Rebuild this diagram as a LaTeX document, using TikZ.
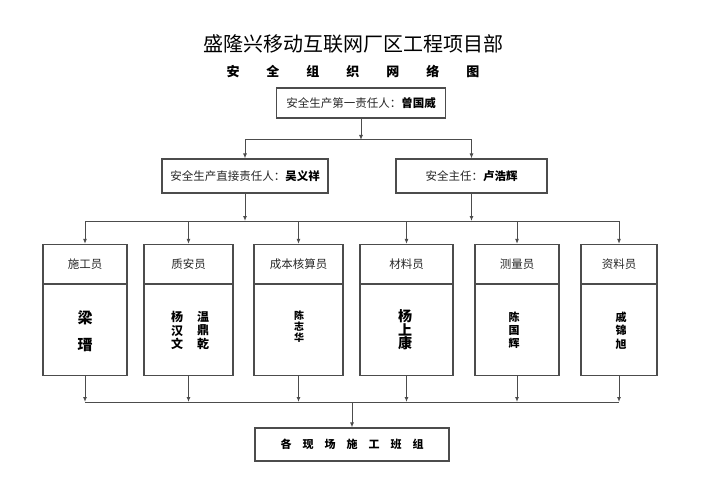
\documentclass[tikz,border=0pt]{standalone}
\usepackage{fontspec}
\setmainfont{Noto Sans CJK SC}
\usepackage{tikz}
\usetikzlibrary{arrows.meta}

\begin{document}
\begin{tikzpicture}[x=1pt,y=-1pt,
        line/.style={draw=black!70,line width=1pt},
        arr/.style={line,-{Latex[length=5pt,width=4pt]}},
        box/.style={draw=black!70,line width=1.1pt,rectangle,inner sep=0pt,
                    font=\fontsize{11.5}{13}\selectfont,text=black!85},
        role/.style={box,minimum height=39pt,anchor=south},
        staff/.style={box,minimum height=91pt,anchor=north},
        names/.style={align=center,text=black,font=\bfseries}]

    \useasboundingbox (0,0) rectangle (707,500);

    \node[font=\fontsize{20}{22}\selectfont] (ttl) at (353,44) {盛隆兴移动互联网厂区工程项目部};
    \node[font=\fontsize{13}{15}\selectfont\bfseries] (sub) at (353,72)
        {安\hspace{27pt}全\hspace{27pt}组\hspace{27pt}织\hspace{27pt}网\hspace{27pt}络\hspace{27pt}图};

    \node[box,minimum width=169pt,minimum height=30pt] (chief) at (361,103)
        {安全生产第一责任人：{\bfseries\color{black}曾国威}};
    \node[box,minimum width=166pt,minimum height=34pt] (duty) at (245,176)
        {安全生产直接责任人：{\bfseries\color{black}吴义祥}};
    \node[box,minimum width=151pt,minimum height=34pt] (safety) at (471.5,176)
        {安全主任：{\bfseries\color{black}卢浩辉}};

    % posts
    \node[role,minimum width=84pt] (role1) at (85,284) {施工员};
    \node[role,minimum width=89pt] (role2) at (188.5,284) {质安员};
    \node[role,minimum width=89pt] (role3) at (298.5,284) {成本核算员};
    \node[role,minimum width=93pt] (role4) at (406.5,284) {材料员};
    \node[role,minimum width=84pt] (role5) at (517,284) {测量员};
    \node[role,minimum width=76pt] (role6) at (619,284) {资料员};

    \node[staff,minimum width=84pt] (staff1) at (85,284) {};
    \node[staff,minimum width=89pt] (staff2) at (188.5,284) {};
    \node[staff,minimum width=89pt] (staff3) at (298.5,284) {};
    \node[staff,minimum width=93pt] (staff4) at (406.5,284) {};
    \node[staff,minimum width=84pt] (staff5) at (517,284) {};
    \node[staff,minimum width=76pt] (staff6) at (619,284) {};

    \node[names,font=\fontsize{15}{27}\selectfont\bfseries] (nm1) at (85,331.5) {梁\\瑨};
    \node[names,font=\fontsize{12}{13.5}\selectfont\bfseries] (nm2a) at (177,330.5) {杨\\汉\\文};
    \node[names,font=\fontsize{12}{13.5}\selectfont\bfseries] (nm2b) at (203,330.5) {温\\鼎\\乾};
    \node[names,font=\fontsize{10}{11}\selectfont\bfseries] (nm3) at (299,327) {陈\\志\\华};
    \node[names,font=\fontsize{14}{13.5}\selectfont\bfseries] (nm4) at (405,330) {杨\\上\\康};
    \node[names,font=\fontsize{11}{13}\selectfont\bfseries] (nm5) at (514,330) {陈\\国\\辉};
    \node[names,font=\fontsize{11}{13.5}\selectfont\bfseries] (nm6) at (621,330.5) {戚\\锦\\旭};

    \node[box,minimum width=194pt,minimum height=33pt,font=\fontsize{11}{13}\selectfont\bfseries,text=black] (team) at (352,444.5)
        {各\hspace{11pt}现\hspace{11pt}场\hspace{11pt}施\hspace{11pt}工\hspace{11pt}班\hspace{11pt}组};

    \coordinate (j1) at (361,140);
    \coordinate (j2) at (352,221);
    \coordinate (j3) at (352,402);

    \draw[arr] (chief) -- (j1);
    \draw[line] (duty |- j1) -- (safety |- j1);
    \draw[arr] (j1) -| (duty);
    \draw[arr] (j1) -| (safety);

    \draw[arr] (duty) -- (duty |- j2);
    \draw[arr] (safety) -- (safety |- j2);
    \draw[line] (role1 |- j2) -- (role6 |- j2);
    \foreach \n in {role1,role2,role3,role4,role5,role6}
        \draw[arr] (\n |- j2) -- (\n);

    \foreach \n in {staff1,staff2,staff3,staff4,staff5,staff6}
        \draw[arr] (\n) -- (\n |- j3);
    \draw[line] (staff1 |- j3) -- (staff6 |- j3);
    \draw[arr] (j3) -- (team);
\end{tikzpicture}
\end{document}
